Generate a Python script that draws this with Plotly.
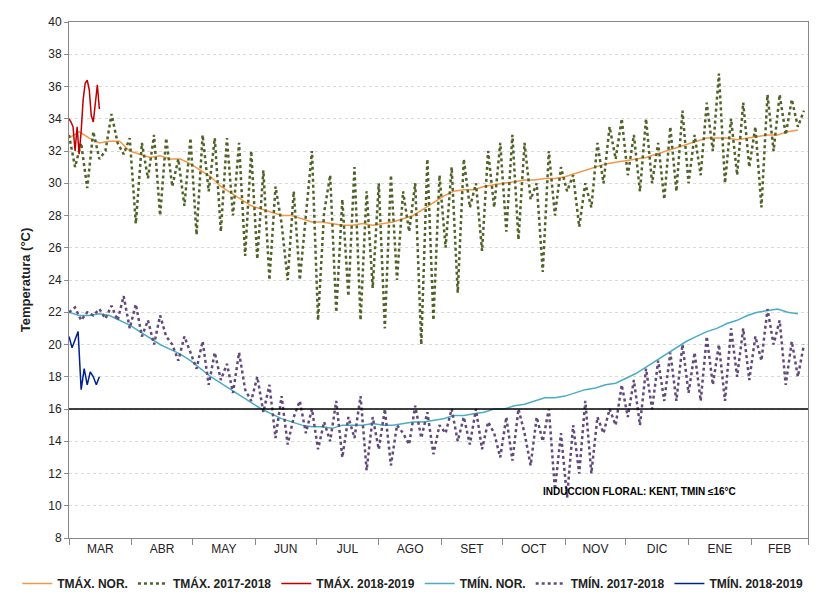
import plotly.graph_objects as go

months = ["MAR","ABR","MAY","JUN","JUL","AGO","SET","OCT","NOV","DIC","ENE","FEB"]
month_days = [31,30,31,30,31,31,30,31,30,31,31,28]

tmax_nor = [32.8,33.2,32.8,32.5,32.6,32.6, 32.0,31.8,31.6,31.7,31.5,31.5,
            31.2,30.8,30.4,29.8,29.4,29.0, 28.6,28.4,28.2,28.0,28.0,27.8,
            27.6,27.6,27.5,27.4,27.4,27.5, 27.4,27.5,27.6,27.8,28.0,28.4,
            28.8,29.2,29.5,29.6,29.6,29.8, 29.9,30.0,30.1,30.2,30.2,30.3,
            30.3,30.4,30.6,30.8,31.0,31.2, 31.3,31.4,31.5,31.6,31.8,32.0,
            32.2,32.4,32.6,32.8,32.8,32.8, 32.7,32.8,32.9,33.0,33.0,33.2,33.3]
tmin_nor = [22.0,21.8,21.8,21.9,21.8,21.5, 21.2,20.8,20.4,20.0,19.7,19.4,
            19.0,18.5,18.0,17.6,17.2,16.8, 16.4,16.0,15.7,15.4,15.2,15.0,
            14.9,14.9,14.8,15.0,15.0,15.0, 15.1,15.0,15.0,15.1,15.2,15.2,
            15.3,15.4,15.6,15.6,15.7,15.8, 16.0,16.0,16.2,16.3,16.5,16.7,
            16.7,16.8,17.0,17.2,17.3,17.5, 17.6,17.9,18.2,18.6,19.0,19.4,
            19.8,20.2,20.5,20.8,21.0,21.3, 21.5,21.8,22.0,22.1,22.2,22.0,21.9]
tmax_1718 = [33.0,31.0,32.5,29.7,33.2,31.5,32.0,34.3,32.5,31.8,
             32.8,27.5,32.5,30.3,33.0,28.0,32.8,29.8,31.5,28.6,
             32.8,26.8,33.0,29.5,32.8,27.0,32.8,28.0,32.5,25.5,
             32.0,25.3,30.8,24.0,29.8,27.5,24.0,29.5,24.0,28.0,
             32.0,21.5,28.2,30.5,22.0,29.0,23.0,31.0,21.5,29.5,
             23.5,30.0,21.0,30.5,24.0,29.5,27.0,30.0,20.0,31.5,
             21.5,30.5,26.0,31.0,23.2,31.5,28.5,30.0,25.8,32.0,
             28.5,32.5,27.0,33.0,26.5,32.5,29.0,30.0,24.5,32.0,
             28.0,31.0,29.5,30.5,27.3,30.0,28.5,32.5,30.0,33.5,
             31.5,34.0,30.5,33.0,29.5,34.0,30.0,32.5,29.0,33.5,
             29.5,34.5,30.0,33.0,30.5,35.0,32.0,36.8,30.0,34.0,
             30.5,35.0,31.0,33.5,28.5,35.5,32.0,35.5,33.0,35.2,33.5,34.5]
tmin_1718 = [22.0,22.3,21.5,22.0,21.8,22.2,21.6,22.4,21.5,23.0,
             21.0,22.5,20.5,21.5,20.0,21.8,20.5,20.0,19.0,20.5,
             19.5,18.5,20.2,17.5,19.5,17.8,18.8,17.0,19.5,17.2,
             16.5,18.0,15.8,17.5,14.2,16.8,13.8,15.5,16.5,14.5,
             16.0,13.5,15.2,14.0,16.5,13.0,15.5,14.2,16.8,12.2,
             15.5,13.5,16.0,12.5,15.0,14.5,13.8,16.2,14.2,15.8,
             13.2,15.0,14.5,16.0,14.0,15.5,13.8,16.0,13.5,15.2,
             14.5,13.0,15.5,12.8,16.0,14.5,12.5,15.5,14.0,16.0,
             11.0,14.5,10.5,15.0,12.0,16.5,12.0,15.5,14.5,16.0,
             15.0,17.5,15.5,17.8,15.0,18.5,16.0,19.0,16.5,19.5,
             16.5,20.0,17.0,19.5,16.5,20.5,17.5,20.0,16.5,21.0,
             18.0,21.0,17.8,20.5,19.0,22.2,20.0,21.5,17.5,20.2,18.0,20.0]
tmax_1819 = [34.0,33.8,33.5,32.0,33.5,31.8,33.2,35.2,36.2,36.4,35.8,34.2,33.8,35.0,36.1,34.6]
tmin_1819 = [20.5,19.8,20.3,20.8,17.2,18.5,17.5,18.3,18.0,17.5,18.0]
threshold = 16

starts = [sum(month_days[:i]) for i in range(12)]
mids = [s + d/2 for s, d in zip(starts, month_days)]
bounds = starts + [365]

def xs(n, step):
    return [i*step for i in range(n)]

fig = go.Figure()
fig.add_trace(go.Scatter(x=xs(len(tmax_nor),5), y=tmax_nor, name="TMÁX. NOR.", mode="lines",
                         line=dict(color="#F79646", width=1.5)))
fig.add_trace(go.Scatter(x=xs(len(tmax_1718),3), y=tmax_1718, name="TMÁX. 2017-2018", mode="lines",
                         line=dict(color="#4F6228", width=2.5, dash="dot")))
fig.add_trace(go.Scatter(x=xs(len(tmax_1819),1), y=tmax_1819, name="TMÁX. 2018-2019", mode="lines",
                         line=dict(color="#C00000", width=1.5)))
fig.add_trace(go.Scatter(x=xs(len(tmin_nor),5), y=tmin_nor, name="TMÍN. NOR.", mode="lines",
                         line=dict(color="#4BACC6", width=1.5)))
fig.add_trace(go.Scatter(x=xs(len(tmin_1718),3), y=tmin_1718, name="TMÍN. 2017-2018", mode="lines",
                         line=dict(color="#604A7B", width=2.5, dash="dot")))
fig.add_trace(go.Scatter(x=xs(len(tmin_1819),1.5), y=tmin_1819, name="TMÍN. 2018-2019", mode="lines",
                         line=dict(color="#002090", width=1.5)))
fig.add_trace(go.Scatter(x=[0,365], y=[threshold,threshold], mode="lines", showlegend=False,
                         line=dict(color="black", width=1.5)))
fig.add_trace(go.Scatter(x=[0,365], y=[None,None], xaxis="x2", showlegend=False, hoverinfo="skip"))

fig.add_annotation(x=bounds[8]-12, y=10.9, text="<b>INDUCCION FLORAL: KENT, TMIN ≤16°C</b>", showarrow=False,
                   xanchor="left", font=dict(size=10, color="black", family="Liberation Sans"))

fnt = "Liberation Sans, Arial"
fig.update_layout(
    width=827, height=605, paper_bgcolor="white", plot_bgcolor="white",
    margin=dict(l=61, r=27, t=14, b=75, autoexpand=False),
    font=dict(family=fnt, size=12, color="#222"),
    xaxis=dict(range=[0,365], tickmode="array", tickvals=mids, ticktext=months, ticks="",
               showgrid=False, showline=True, linecolor="#888", mirror=True, zeroline=False,
               tickfont=dict(size=12), automargin=False),
    xaxis2=dict(range=[0,365], overlaying="x", side="bottom", tickmode="array", tickvals=bounds,
                ticktext=[""]*len(bounds), ticks="outside", ticklen=6, tickcolor="#888",
                showgrid=False, showline=False, zeroline=False, automargin=False),
    yaxis=dict(range=[8,40], dtick=2, showgrid=True, gridcolor="#d9d9d9", griddash="dot",
               showline=True, linecolor="#888", mirror=True, ticks="outside", ticklen=4, tickcolor="#888",
               zeroline=False, tickfont=dict(size=12), automargin=False,
               title=dict(text="<b>Temperatura (°C)</b>", font=dict(size=13, family="Liberation Sans"), standoff=14)),
    legend=dict(orientation="h", x=-0.07, y=-0.06, xanchor="left", yanchor="top",
                font=dict(size=12, color="#222", family=fnt), itemwidth=30, tracegroupgap=0),
)
for t in fig.data:
    if t.name:
        t.name = "<b>" + t.name + "</b>"
fig.write_html("out.html")
